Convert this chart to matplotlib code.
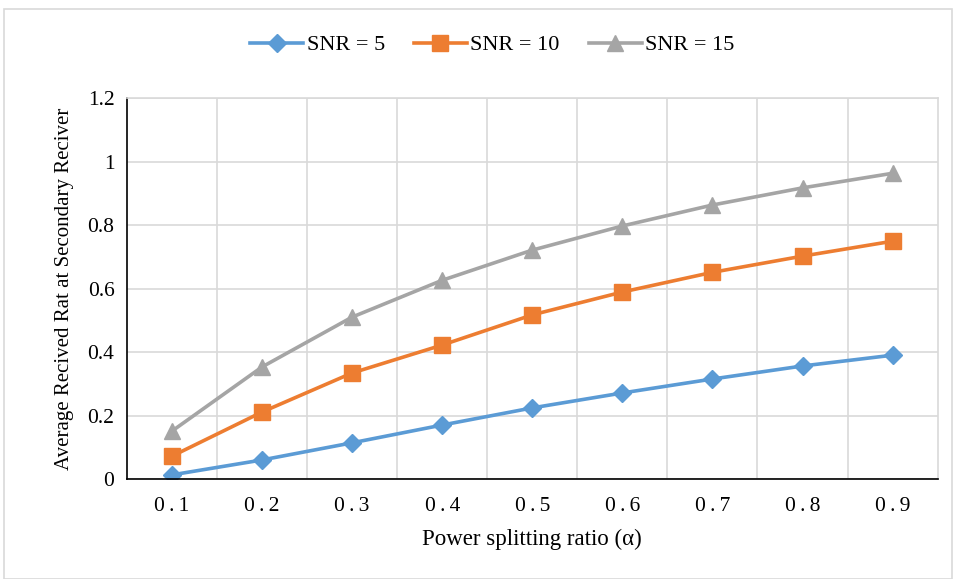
import numpy as np
import matplotlib.pyplot as plt
from matplotlib.patches import Rectangle

plt.rcParams['font.family'] = ['Liberation Serif', 'DejaVu Serif']

# power splitting ratio categories
alpha_labels = ['0.1', '0.2', '0.3', '0.4', '0.5', '0.6', '0.7', '0.8', '0.9']
snr5 = [0.013, 0.060, 0.114, 0.170, 0.224, 0.271, 0.315, 0.356, 0.390]
snr10 = [0.072, 0.211, 0.334, 0.422, 0.517, 0.589, 0.651, 0.702, 0.749]
snr15 = [0.151, 0.353, 0.510, 0.626, 0.721, 0.797, 0.863, 0.917, 0.963]

x = np.arange(1, len(alpha_labels) + 1)

fig = plt.figure(figsize=(9.56, 5.79), dpi=100)
fig.patches.append(Rectangle((0.004, 0.0), 0.992, 0.984, transform=fig.transFigure,
                             fill=False, edgecolor='#d9d9d9', linewidth=1.2))
ax = fig.add_axes([0.1328, 0.1727, 0.848, 0.658])

ax.plot(x, snr5, color='#5B9BD5', lw=2.6, marker='D', ms=9, label='SNR = 5')
ax.plot(x, snr10, color='#ED7D31', lw=2.6, marker='s', ms=11, label='SNR = 10')
ax.plot(x, snr15, color='#A5A5A5', lw=2.6, marker='^', ms=12, label='SNR = 15')

ax.set_xlim(0.5, 9.5)
ax.set_ylim(0, 1.2)
ax.set_yticks([0, 0.2, 0.4, 0.6, 0.8, 1.0, 1.2])
ax.set_yticklabels(['0', '0.2', '0.4', '0.6', '0.8', '1', '1.2'])
ax.set_xticks(x)
# Excel draws these with wide letter spacing
ax.set_xticklabels([s.replace('.', '\u2009.\u2009') for s in alpha_labels])
ax.set_xticks(np.arange(1.5, 9.5, 1), minor=True)
ax.tick_params(axis='both', which='both', length=0, labelsize=15.5)
ax.tick_params(axis='x', pad=13)
ax.tick_params(axis='y', pad=9)
ax.grid(True, axis='y', color='#d9d9d9', lw=1.2)
ax.grid(True, axis='x', which='minor', color='#d9d9d9', lw=1.2)
ax.set_axisbelow(True)

for s in ['top', 'right']:
    ax.spines[s].set_color('#d9d9d9')
    ax.spines[s].set_linewidth(1.2)
ax.spines['left'].set_color('black')
ax.spines['bottom'].set_color('black')
ax.spines['left'].set_linewidth(1.2)
ax.spines['bottom'].set_linewidth(1.2)

ax.set_xlabel('Power splitting ratio (α)', fontsize=16.5, labelpad=9)
ax.set_ylabel('Average Recived Rat at Secondary Reciver', fontsize=15, labelpad=10)

fig.legend(loc='center', bbox_to_anchor=(0.515, 0.922), ncol=3, frameon=False,
           fontsize=16, handlelength=2.4, columnspacing=1.3, handletextpad=0.15)

fig.savefig('out.png', dpi=100)
